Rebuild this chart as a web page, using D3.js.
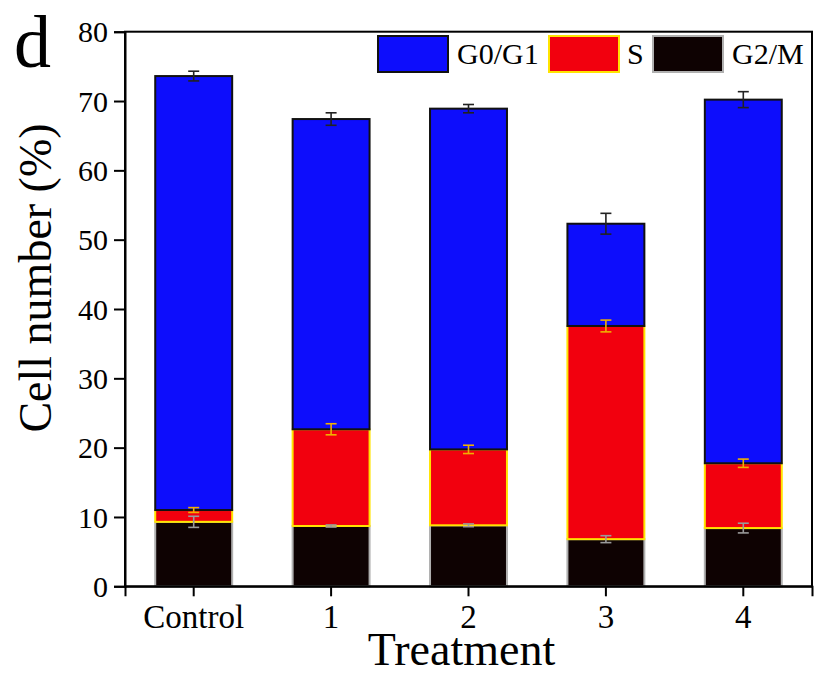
<!DOCTYPE html>
<html><head><meta charset="utf-8">
<script src="https://cdn.jsdelivr.net/npm/d3@7"></script>
<style>body{margin:0;background:#fff}svg{display:block}text{font-family:"Liberation Serif","Times New Roman",serif;fill:#000}</style>
</head><body>
<svg id="c" width="816" height="677"></svg>
<script>
const categories = ["Control","1","2","3","4"];
const seriesNames = ["G2/M","S","G0/G1"];
const g2m = [9.3, 8.7, 8.8, 6.8, 8.4];
const sPhase = [1.7, 13.95, 10.95, 30.75, 9.35];
const g0g1 = [62.6, 44.75, 49.15, 14.75, 52.45];
const g2mErr = [0.8, 0.15, 0.2, 0.5, 0.7];
const sErr = [0.35, 0.8, 0.6, 0.85, 0.6];
const g0g1Err = [0.7, 0.9, 0.6, 1.5, 1.15];
const yTicks = [0,10,20,30,40,50,60,70,80];

const fills = {"G0/G1":"#0d0dfc","S":"#f2000e","G2/M":"#0e0202"};
const strokes = {"G0/G1":"#111","S":"#ffe400","G2/M":"#b0b0b0"};
const errCol = {"G0/G1":"#222","S":"#f0b000","G2/M":"#9a9a9a"};
const errs = {"G0/G1":g0g1Err,"S":sErr,"G2/M":g2mErr};

const rows = categories.map((c,i)=>({cat:c,"G2/M":g2m[i],"S":sPhase[i],"G0/G1":g0g1[i]}));
const stacked = d3.stack().keys(seriesNames)(rows);

const L=125,R=812,T=31.7,B=586.3;
const svg = d3.select("#c");
const x = d3.scaleBand().domain(categories).range([L,R]).padding(0);
const y = d3.scaleLinear().domain([0,80]).range([B,T]);
const bw = x.bandwidth()*0.56;

const g = svg.append("g");
stacked.forEach(layer=>{
  const key = layer.key;
  g.selectAll(null).data(layer).enter().append("rect")
    .attr("x",d=>x(d.data.cat)+x.bandwidth()/2-bw/2)
    .attr("y",d=>y(d[1]))
    .attr("width",bw)
    .attr("height",d=>y(d[0])-y(d[1]))
    .attr("fill",fills[key])
    .attr("stroke",strokes[key])
    .attr("stroke-width",2);
});
// error bars
stacked.forEach(layer=>{
  const key = layer.key, e = errs[key];
  layer.forEach((d,i)=>{
    const cx = x(d.data.cat)+x.bandwidth()/2;
    const y1 = y(d[1]+e[i]), y2 = y(d[1]-e[i]);
    const eg = g.append("g").attr("stroke",errCol[key]).attr("stroke-width",1.6);
    eg.append("line").attr("x1",cx).attr("x2",cx).attr("y1",y1).attr("y2",y2);
    eg.append("line").attr("x1",cx-5.5).attr("x2",cx+5.5).attr("y1",y1).attr("y2",y1);
    eg.append("line").attr("x1",cx-5.5).attr("x2",cx+5.5).attr("y1",y2).attr("y2",y2);
  });
});

// frame
svg.append("rect").attr("x",L).attr("y",T).attr("width",R-L).attr("height",B-T)
  .attr("fill","none").attr("stroke","#000").attr("stroke-width",2);

// axes
const ya = svg.append("g").attr("transform",`translate(${L},0)`)
  .call(d3.axisLeft(y).tickValues(yTicks).tickSize(11).tickPadding(6));
ya.select(".domain").attr("stroke-width",2);
ya.selectAll(".tick line").attr("stroke-width",2);
ya.selectAll("text").style("font-size","30px").style("font-family","Liberation Serif").attr("dy","0.34em");

const xa = svg.append("g").attr("transform",`translate(0,${B})`)
  .call(d3.axisBottom(x).tickSize(10).tickPadding(8));
xa.select(".domain").attr("stroke-width",2);
xa.selectAll(".tick line").attr("stroke-width",2);
xa.selectAll("text").style("font-size","33px").style("font-family","Liberation Serif").attr("dy","0.71em");

// titles
svg.append("text").attr("x",(L+R)/2-7).attr("y",665).attr("text-anchor","middle")
  .style("font-size","46px").text("Treatment");
svg.append("text").attr("transform","translate(51,278) rotate(-90)").attr("text-anchor","middle")
  .style("font-size","46px").text("Cell number (%)");
svg.append("text").attr("x",14).attr("y",67).style("font-size","74px").text("d");

// legend
const legendItems = [
  {key:"G0/G1",sx:378,tx:457},
  {key:"S",sx:549,tx:627},
  {key:"G2/M",sx:653,tx:732}
];
const lg = svg.append("g");
legendItems.forEach(it=>{
  lg.append("rect").attr("x",it.sx).attr("y",36).attr("width",70).attr("height",36)
    .attr("fill",fills[it.key]).attr("stroke",strokes[it.key]).attr("stroke-width",2);
  lg.append("text").attr("x",it.tx).attr("y",64).style("font-size","30px").text(it.key);
});
</script>
</body></html>
